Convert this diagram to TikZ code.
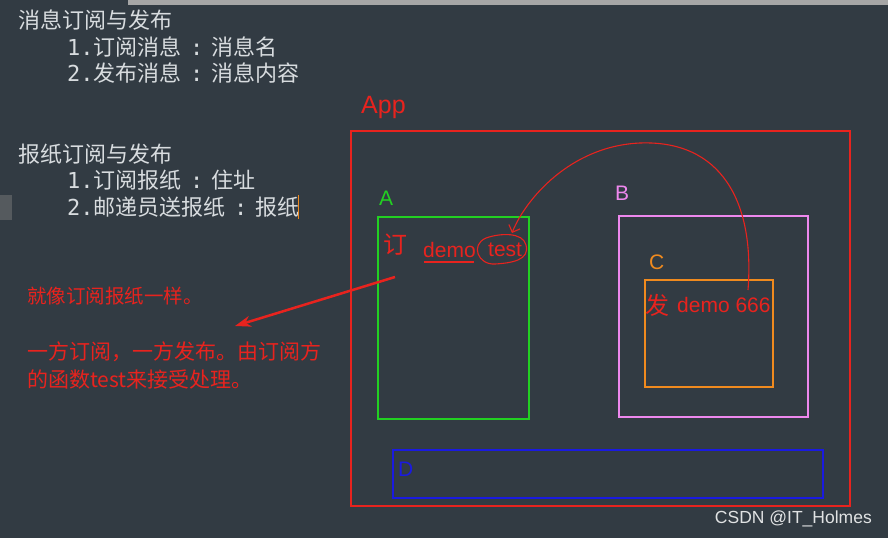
\documentclass[tikz,border=0pt]{standalone}
\usepackage{fontspec}
\setmainfont{Noto Sans CJK SC}
\newfontfamily\latinf{Liberation Sans}
\newfontfamily\monof{DejaVu Sans Mono}
\newcommand{\cln}{\makebox[30pt][c]{\monof :}}
\usetikzlibrary{arrows.meta}
\definecolor{bg}{HTML}{323B43}
\definecolor{txt}{HTML}{D8DCDF}
\definecolor{redc}{HTML}{E8231E}
\definecolor{grn}{HTML}{22D022}
\definecolor{vio}{HTML}{EE88EE}
\definecolor{org}{HTML}{F08A1E}
\definecolor{blu}{HTML}{1A1AE0}
\tikzset{
 code/.style={anchor=west,text=txt,font=\fontsize{22}{24}\selectfont,inner sep=0pt},
 note/.style={anchor=west,text=redc,font=\fontsize{21}{22}\selectfont,inner sep=0pt},
 lab/.style={anchor=west,font=\latinf\fontsize{21}{22}\selectfont,inner sep=0pt},
 hand/.style={anchor=west,text=redc,font=\latinf\fontsize{21}{22}\selectfont,inner sep=0pt},
 box/.style={draw,line width=1.4pt},
 pen/.style={draw=redc,line width=1.1pt}
}
\begin{document}
\begin{tikzpicture}[x=1pt,y=-1pt]
\fill[bg] (0,0) rectangle (888,538);
\useasboundingbox (0,0) rectangle (888,538);
\fill[gray!70] (128,0) rectangle (888,5);
\fill[gray!45!bg] (0,195) rectangle (12,220);
\node[code] (t1) at (18,20) {消息订阅与发布};
\node[code] (t2) at (67,47) {{\monof 1.}订阅消息\cln 消息名};
\node[code] (t3) at (67,73) {{\monof 2.}发布消息\cln 消息内容};
\node[code] (t4) at (18,154) {报纸订阅与发布};
\node[code] (t5) at (67,180) {{\monof 1.}订阅报纸\cln 住址};
\node[code] (t6) at (67,207) {{\monof 2.}邮递员送报纸\cln 报纸};
\draw[org,line width=1pt] (298,195) -- (298,219);
\node[note,font=\fontsize{19.5}{22}\selectfont] (n1) at (27,296) {就像订阅报纸一样。};
\node[note] (n2) at (27,352) {一方订阅，一方发布。由订阅方};
\node[note] (n3) at (27,380) {的函数test来接受处理。};
\draw[box,redc] (351,131) rectangle (850,506);
\node[lab,text=redc,font=\latinf\fontsize{25}{26}\selectfont] (app) at (361,107) {App};
\draw[box,grn] (378,217) rectangle (529,419);
\node[lab,text=grn] (la) at (379,198) {A};
\draw[box,vio] (619,216) rectangle (808,417);
\node[lab,text=vio] (lb) at (615,193) {B};
\draw[box,org] (645,280) rectangle (773,387);
\node[lab,text=org] (lc) at (649,262) {C};
\draw[box,blu] (393,450) rectangle (823,498);
\node[lab,text=blu] (ld) at (398,469) {D};
\node[hand] (demo) at (423,250) {demo};
\node[hand] (test) at (488,250) {test};
\node[note,font=\fontsize{24}{24}\selectfont] (ding) at (383,245) {订};
\draw[pen] (424,262) -- (474,262);
\draw[pen] (486,238) .. controls (470,245) and (478,265) .. (495,264) .. controls (512,263) and (530,260) .. (526,245) .. controls (523,232) and (500,233) .. (486,238);
\node[note,font=\fontsize{24}{24}\selectfont] (fa) at (645,305) {发};
\node[hand] (d666) at (677,305) {demo 666};
\draw[pen,-{Straight Barb[length=6pt]}] (748,290) .. controls (755,200) and (720,140) .. (640,143) .. controls (570,146) and (525,200) .. (512,233);
\coordinate (s) at (395,277);
\coordinate (e) at (235,326);
\draw[redc,line width=2.5pt,-{Stealth[length=16pt,width=11pt]}] (s) -- (e);
\node[anchor=east,text=white!85!bg,font=\latinf\fontsize{17.5}{18}\selectfont,inner sep=0pt] (wm) at (872,519) {CSDN @IT\_Holmes};
\end{tikzpicture}
\end{document}
